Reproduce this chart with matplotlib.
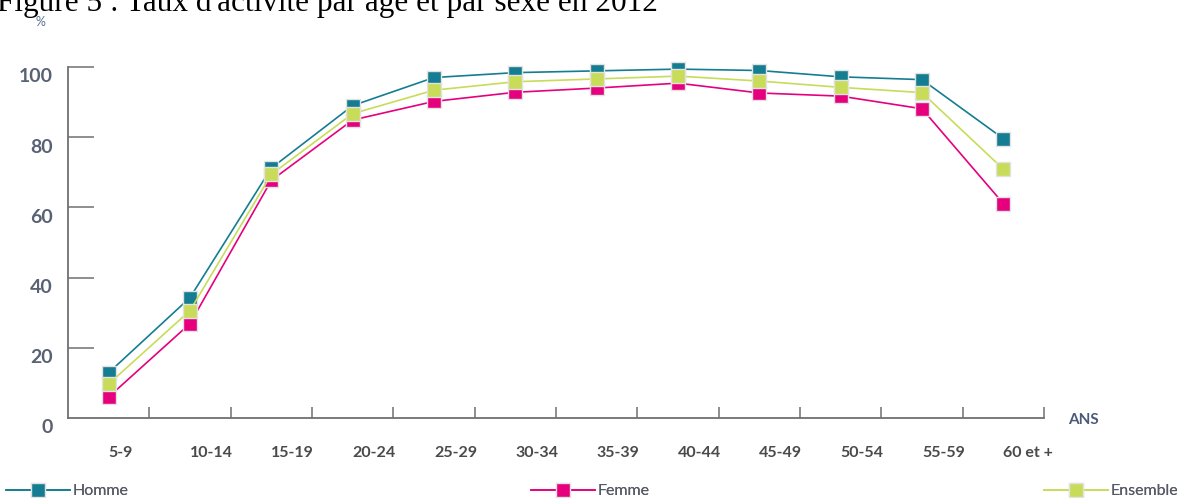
import matplotlib
matplotlib.use("Agg")
import matplotlib.pyplot as plt
import matplotlib.transforms as mtransforms
from matplotlib.lines import Line2D

# Taux d'activité (%) par tranche d'âge
ages = ['5-9', '10-14', '15-19', '20-24', '25-29', '30-34',
        '35-39', '40-44', '45-49', '50-54', '55-59', '60 et +']
homme = [12.9, 34.3, 71.2, 89.0, 97.0, 98.4, 98.9, 99.4, 99.0, 97.2, 96.4, 79.6]
femme = [6.0, 26.9, 67.7, 84.9, 90.2, 92.8, 94.0, 95.4, 92.6, 91.7, 88.1, 61.1]
ensemble = [9.7, 30.6, 69.4, 86.7, 93.4, 95.8, 96.6, 97.4, 96.0, 94.2, 92.7, 70.9]

c_homme = '#147d91'
c_femme = '#e6007e'
c_ens = '#c8dc5a'
axis_col = '#707070'

fig = plt.figure(figsize=(11.86, 4.98), dpi=100)
ax = fig.add_axes([68 / 1186, 80 / 498, 976 / 1186, 351 / 498])

x = list(range(len(ages)))
series = [(homme, c_homme, 'Homme', 3),
          (femme, c_femme, 'Femme', 4),
          (ensemble, c_ens, 'Ensemble', 5)]
for vals, col, lab, z in series:
    ax.plot(x, vals, color=col, lw=1.2, marker='s', ms=9.5,
            mfc=col, mec='#e2e2e2', mew=1.0, zorder=z, clip_on=False)

ax.set_xlim(-0.5, len(ages) - 0.5)
ax.set_ylim(0, 100)

for s in ['top', 'right']:
    ax.spines[s].set_visible(False)
for s in ['left', 'bottom']:
    ax.spines[s].set_color(axis_col)
    ax.spines[s].set_linewidth(1.3)

# y ticks pointing inward, labels shifted slightly down
ax.set_yticks([0, 20, 40, 60, 80, 100])
ax.tick_params(axis='y', direction='in', length=19, width=1.1, color=axis_col,
               pad=11, labelsize=14, labelcolor='#596273')
shift = mtransforms.ScaledTranslation(0, -6 / 72, fig.dpi_scale_trans)
for lbl in ax.get_yticklabels():
    lbl.set_fontfamily('Lato')
    lbl.set_fontweight('bold')
    lbl.set_transform(lbl.get_transform() + shift)
ax.yaxis.get_major_ticks()[0].tick1line.set_visible(False)

# x ticks at category boundaries, labels at the categories
ax.set_xticks([i + 0.5 for i in x], minor=True)
ax.tick_params(axis='x', which='minor', direction='in', length=8, width=1.1,
               color=axis_col)
ax.set_xticks(x)
ax.set_xticklabels(ages)
ax.tick_params(axis='x', which='major', length=0, pad=20, labelsize=11.5,
               labelcolor='#4a4a4a')
for lbl in ax.get_xticklabels():
    lbl.set_fontfamily('Lato')
    lbl.set_fontweight('bold')
    lbl.set_horizontalalignment('left')

fig.text(1068 / 1186, 1 - 420 / 498, 'ANS', fontsize=11, fontweight='bold',
         family='Lato', color='#4a5a78', va='center', ha='left')
fig.text(40 / 1186, 1 - 22 / 498, '%', fontsize=9, family='Lato',
         color='#5a7090', va='center', ha='center')

fig.text(658 / 1186, 1 - 11 / 498,
         "Figure 5 : Taux d'activité par âge et par sexe en 2012",
         family='Liberation Serif', fontsize=22.5, ha='right', va='baseline',
         color='black')

# legend entries spread along the bottom
legend_x = [0 / 1186, 525 / 1186, 1038 / 1186]
for (vals, col, lab, z), lx in zip(series, legend_x):
    h = Line2D([], [], color=col, lw=1.2, marker='s', ms=9.5, mfc=col,
               mec='#e2e2e2', mew=1.0)
    leg = fig.legend([h], [lab], loc='center left',
                     bbox_to_anchor=(lx, 1 - 491 / 498), frameon=False,
                     handlelength=4.0, handletextpad=0.15, borderaxespad=0,
                     prop={'family': 'Lato', 'size': 11.5})
    for t in leg.get_texts():
        t.set_color('#555a66')
    fig.add_artist(leg)

fig.savefig('out.png', dpi=100)
